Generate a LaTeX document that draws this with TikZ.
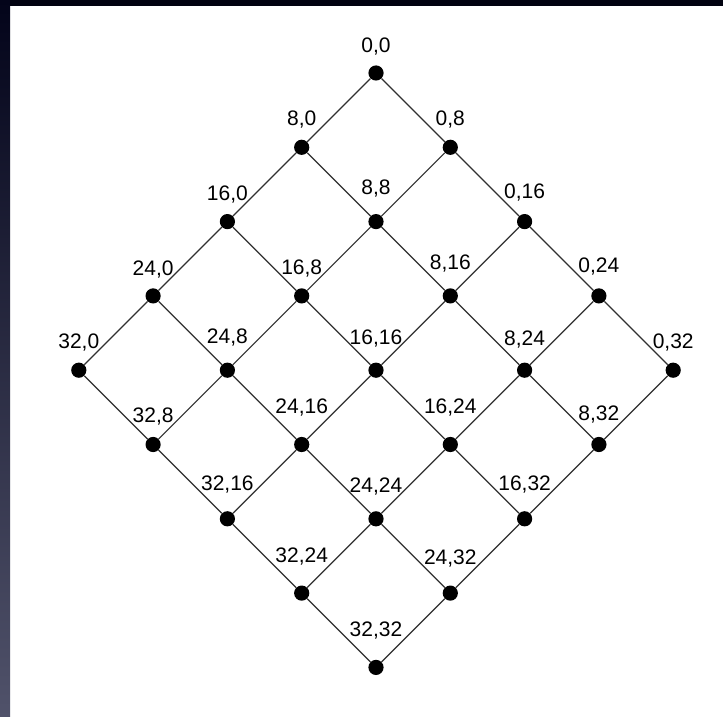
\documentclass[tikz,border=0pt]{standalone}
\usepackage{fontspec}
\setmainfont{Liberation Sans}
\definecolor{stripdark}{HTML}{03041A}
\definecolor{stripmid}{HTML}{50526A}
\definecolor{topstrip}{HTML}{010210}
\definecolor{edgecol}{HTML}{303030}
\begin{document}
\begin{tikzpicture}[x=1pt,y=-1pt,
  dot/.style={circle,fill=black,inner sep=0pt,minimum size=15.2pt},
  lbl/.style={inner sep=0pt,text height=15pt,text depth=0pt,font=\fontsize{21}{21}\selectfont},
  link/.style={draw=edgecol,line width=1.2pt}]
\useasboundingbox (0,0) rectangle (723,717);
\fill[white] (0,0) rectangle (723,717);
\fill[topstrip] (0,0) rectangle (723,6);
\shade[top color=stripdark,bottom color=stripmid] (0,0) rectangle (10,717);
\foreach \i/\j/\o in {0/0/28,1/0/29,0/1/29,2/0/29,1/1/35,0/2/31,3/0/28,2/1/29,1/2/34,0/3/31,
  4/0/29,3/1/34,2/2/33,1/3/32,0/4/29,4/1/30,3/2/39,2/3/39,1/4/32,4/2/36,3/3/34,2/4/36,
  4/3/38,3/4/36,4/4/38}{
  \node[dot] (d-\i-\j) at ({376+74.3*(\j-\i)},{73+74.3*(\i+\j)}) {};
  \pgfmathtruncatemacro\va{8*\i}
  \pgfmathtruncatemacro\vb{8*\j}
  \node[lbl] (l-\i-\j) at ([yshift=\o pt]d-\i-\j.center) {\va,\vb};
}
\foreach \i in {0,...,4}{
  \foreach \j [evaluate=\j as \jj using int(\j+1)] in {0,...,3}{
    \draw[link] (d-\i-\j) -- (d-\i-\jj);
    \draw[link] (d-\j-\i) -- (d-\jj-\i);
  }
}
\end{tikzpicture}
\end{document}
